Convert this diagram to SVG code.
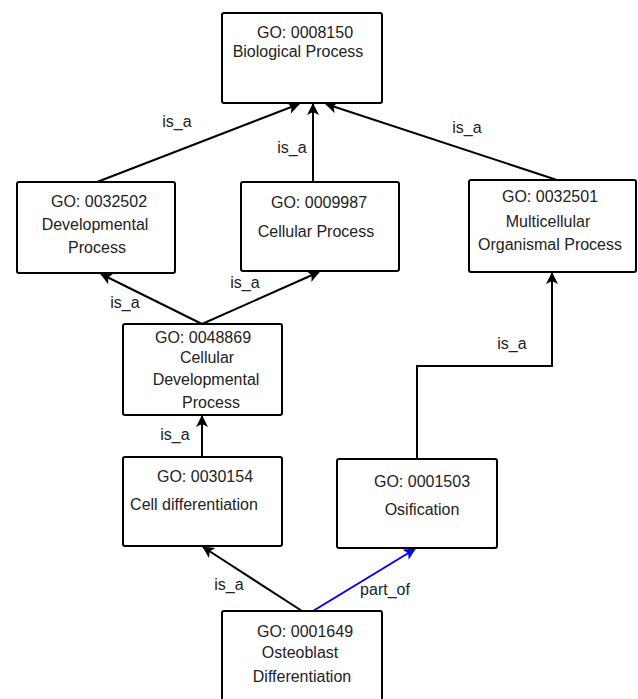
<svg xmlns="http://www.w3.org/2000/svg" width="638" height="699" viewBox="0 0 638 699">
<style>
.box{fill:#fff;stroke:#000;stroke-width:2}
text{font-family:"Liberation Sans",Arial,sans-serif;font-size:16px;fill:#222;text-anchor:middle}
.e{fill:none;stroke:#000;stroke-width:2}
.b{fill:none;stroke:#0000ff;stroke-width:2}
</style>
<defs>
<marker id="ak" markerUnits="userSpaceOnUse" markerWidth="14" markerHeight="12" refX="11" refY="6" orient="auto" viewBox="0 0 14 12">
<path d="M0,0 L12,6 L0,12 L3,6 Z" fill="#000"/>
</marker>
<marker id="ab" markerUnits="userSpaceOnUse" markerWidth="14" markerHeight="12" refX="11" refY="6" orient="auto" viewBox="0 0 14 12">
<path d="M0,0 L12,6 L0,12 L3,6 Z" fill="#0000ff"/>
</marker>
</defs>
<g id="connectors">
<line class="e" x1="97" y1="182" x2="299" y2="104" marker-end="url(#ak)"/>
<line class="e" x1="313" y1="182" x2="313" y2="104" marker-end="url(#ak)"/>
<line class="e" x1="557" y1="180" x2="326" y2="104" marker-end="url(#ak)"/>
<line class="e" x1="202" y1="324" x2="101" y2="274" marker-end="url(#ak)"/>
<line class="e" x1="202" y1="324" x2="319" y2="272" marker-end="url(#ak)"/>
<line class="e" x1="202" y1="457" x2="202" y2="416" marker-end="url(#ak)"/>
<polyline class="e" points="417,459 417,366 552,366 552,273" marker-end="url(#ak)"/>
<line class="e" x1="302" y1="611" x2="203" y2="547" marker-end="url(#ak)"/>
<line class="b" x1="313" y1="611" x2="415" y2="549" marker-end="url(#ab)"/>
<text x="177" y="127">is_a</text>
<text x="292" y="153">is_a</text>
<text x="467" y="133">is_a</text>
<text x="125" y="308">is_a</text>
<text x="245" y="288">is_a</text>
<text x="175" y="440">is_a</text>
<text x="512" y="349">is_a</text>
<text x="229" y="590">is_a</text>
<text x="385" y="595">part_of</text>
</g>
<g id="n0008150">
<rect class="box" x="222" y="13" width="160" height="90" rx="2"/>
<text x="305" y="38">GO: 0008150</text>
<text x="298" y="57">Biological Process</text>
</g>
<g id="n0032502">
<rect class="box" x="17" y="182" width="158" height="91" rx="2"/>
<text x="99" y="207">GO: 0032502</text>
<text x="95" y="230">Developmental</text>
<text x="97" y="253">Process</text>
</g>
<g id="n0009987">
<rect class="box" x="241" y="182" width="158" height="89" rx="2"/>
<text x="319" y="208">GO: 0009987</text>
<text x="316" y="237">Cellular Process</text>
</g>
<g id="n0032501">
<rect class="box" x="469" y="180" width="167" height="92" rx="2"/>
<text x="550" y="202">GO: 0032501</text>
<text x="548" y="227">Multicellular</text>
<text x="550" y="250">Organismal Process</text>
</g>
<g id="n0048869">
<rect class="box" x="123" y="324" width="159" height="91" rx="2"/>
<text x="203" y="343">GO: 0048869</text>
<text x="207" y="363">Cellular</text>
<text x="206" y="385">Developmental</text>
<text x="211" y="408">Process</text>
</g>
<g id="n0030154">
<rect class="box" x="123" y="457" width="159" height="89" rx="2"/>
<text x="205" y="482">GO: 0030154</text>
<text x="194" y="510">Cell differentiation</text>
</g>
<g id="n0001503">
<rect class="box" x="337" y="459" width="160" height="89" rx="2"/>
<text x="422" y="487">GO: 0001503</text>
<text x="422" y="515">Osification</text>
</g>
<g id="n0001649">
<rect class="box" x="222" y="611" width="160" height="100" rx="2"/>
<text x="305" y="637">GO: 0001649</text>
<text x="300" y="658">Osteoblast</text>
<text x="302" y="682">Differentiation</text>
</g>
</svg>
